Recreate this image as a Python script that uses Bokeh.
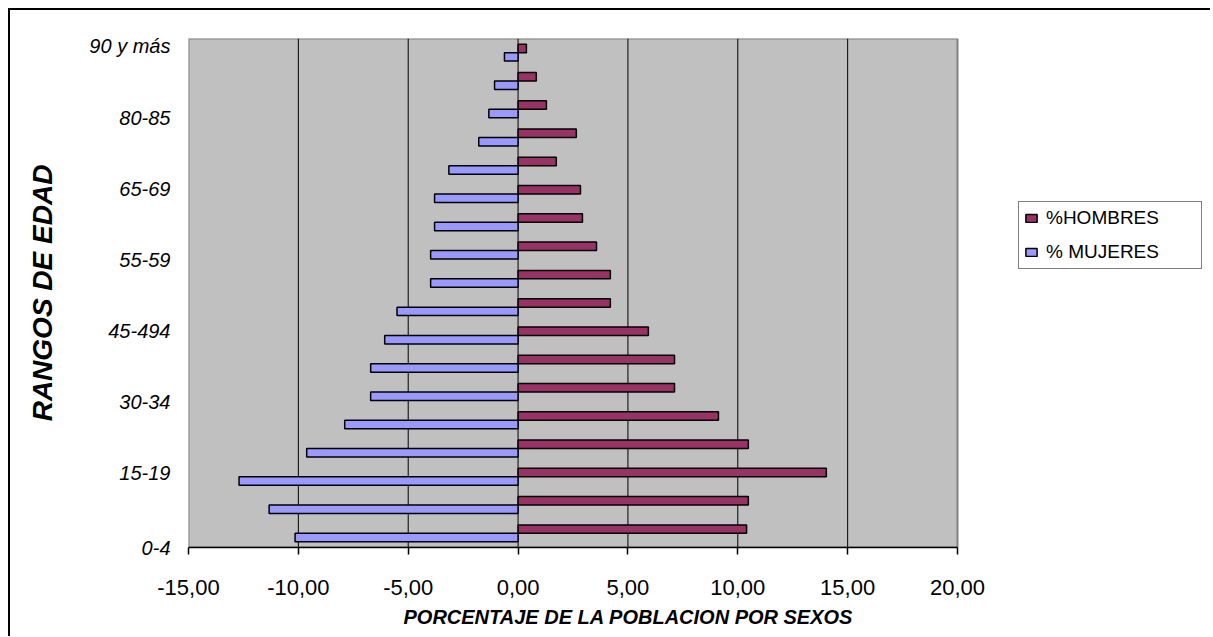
import math
from bokeh.plotting import figure
from bokeh.layouts import column
from bokeh.models import (Range1d, FixedTicker, Legend, LegendItem, Title,
                          ColumnDataSource)
from bokeh.embed import file_html
from bokeh.resources import INLINE

# ---- data (bottom to top) ----
categories = ["0-4", "5-9", "10-14", "15-19", "20-24", "25-29", "30-34", "35-39",
              "40-44", "45-494", "50-54", "55-59", "60-64", "65-69", "70-74",
              "75-79", "80-85", "90 y más"]
hombres = [10.40, 10.48, 14.03, 10.48, 9.12, 7.12, 7.12, 5.93, 4.20, 4.20,
           3.57, 2.93, 2.84, 1.74, 2.65, 1.29, 0.83, 0.38]
mujeres = [-10.15, -11.33, -12.70, -9.62, -7.89, -6.71, -6.71, -6.07, -5.51, -3.98,
           -3.98, -3.80, -3.80, -3.15, -1.79, -1.33, -1.07, -0.62]
x_ticks = [-15, -10, -5, 0, 5, 10, 15, 20]
y_tick_labels = ["0-4", "15-19", "30-34", "45-494", "55-59", "65-69", "80-85", "90 y más"]
series_names = ["%HOMBRES", "% MUJERES"]
series_colors = ["#993366", "#9999FF"]
x_title = "PORCENTAJE DE LA POBLACION POR SEXOS"
y_title = "RANGOS DE EDAD"

# layout: where the (sparse) category labels sit on the category axis
label_pos = [0.0, 2.64, 5.15, 7.67, 10.18, 12.69, 15.2, 17.75]

n = len(categories)
bar_h = 0.3
x_lo, x_hi = x_ticks[0], x_ticks[-1]
src_h = ColumnDataSource(dict(y=[i + 0.5 + bar_h / 2 for i in range(n)], right=hombres, cat=categories))
src_m = ColumnDataSource(dict(y=[i + 0.5 - bar_h / 2 for i in range(n)], right=mujeres, cat=categories))

W, H = 1200, 626
plot_left, plot_right = 178, 947          # grey plot area, in canvas pixels
frame_right = W - 6                        # frame extended to hold the legend
px_per_unit = (plot_right - plot_left) / (x_hi - x_lo)
x_end = x_hi + (frame_right - plot_right) / px_per_unit

p = figure(width=W, height=H, output_backend="svg", toolbar_location=None,
           x_range=Range1d(x_lo, x_end), y_range=Range1d(0, n),
           min_border_left=plot_left, min_border_top=28, min_border_right=W - frame_right,
           min_border_bottom=H - 537)
p.background_fill_color = "white"
p.border_fill_color = "white"
p.outline_line_color = None

# grey plot area with grey border
p.quad(left=x_lo, right=x_hi, bottom=0, top=n, fill_color="#C0C0C0",
       line_color="#808080", line_width=2)

# vertical grid lines (within plot area)
p.segment(x0=x_ticks[1:-1], x1=x_ticks[1:-1], y0=[0] * (len(x_ticks) - 2),
          y1=[n] * (len(x_ticks) - 2), line_color="black", line_width=1)
p.xgrid.grid_line_color = None
p.ygrid.grid_line_color = None

rh = p.hbar(y="y", left=0, right="right", height=bar_h, source=src_h,
            fill_color=series_colors[0], line_color="black", line_width=1.5)
rm = p.hbar(y="y", left=0, right="right", height=bar_h, source=src_m,
            fill_color=series_colors[1], line_color="black", line_width=1.5)

# x axis
xa = p.xaxis[0]
xa.bounds = (x_lo, x_hi)
xa.ticker = FixedTicker(ticks=x_ticks)
xa.major_label_overrides = {t: f"{t:.2f}".replace(".", ",") for t in x_ticks}
xa.axis_line_color = "black"
xa.axis_line_width = 1.5
xa.major_tick_line_color = "black"
xa.major_tick_line_width = 1.5
xa.major_tick_out = 7
xa.major_tick_in = 0
xa.minor_tick_line_color = None
xa.major_label_standoff = 25
xa.major_label_text_font = "Liberation Sans"
xa.major_label_text_font_size = "22px"
xa.major_label_text_color = "black"

# y axis (category labels)
ya = p.yaxis[0]
ya.ticker = FixedTicker(ticks=label_pos)
ya.major_label_overrides = {pos: lab for pos, lab in zip(label_pos, y_tick_labels)}
ya.axis_line_color = None
ya.major_tick_line_color = None
ya.minor_tick_line_color = None
ya.major_tick_out = 0
ya.major_tick_in = 0
ya.major_label_standoff = 18
ya.major_label_text_font = "Liberation Sans"
ya.major_label_text_font_style = "italic"
ya.major_label_text_font_size = "20px"
ya.major_label_text_color = "black"
ya.axis_label = y_title
ya.axis_label_standoff = 28
ya.axis_label_text_font = "Liberation Sans"
ya.axis_label_text_font_style = "bold italic"
ya.axis_label_text_font_size = "28px"
ya.axis_label_text_color = "black"

# x axis title
xt = Title(text=x_title, align="left", offset=215, standoff=12,
           text_font="Liberation Sans", text_font_style="bold italic",
           text_font_size="20px", text_color="black")
p.add_layout(xt, "below")

# legend (inside the extended frame, right of the grey area)
legend = Legend(items=[LegendItem(label=series_names[0], renderers=[rh]),
                       LegendItem(label=series_names[1], renderers=[rm])],
                location=(1008 - plot_left, 278), orientation="vertical",
                glyph_width=14, glyph_height=10, label_standoff=8,
                label_width=150, label_height=22, spacing=12, padding=5, margin=0,
                label_text_font="Liberation Sans", label_text_font_size="19px",
                label_text_color="black",
                border_line_color="black", border_line_width=1.5,
                background_fill_color="white", background_fill_alpha=1)
p.add_layout(legend)

# chart-area border: visible on the top and left edges only, as in the reference
page = column(p, styles={"margin-left": "8px", "margin-top": "8px",
                         "border-top": "2px solid #000000",
                         "border-left": "2px solid #000000"})

open("out.html", "w").write(file_html(page, INLINE))
